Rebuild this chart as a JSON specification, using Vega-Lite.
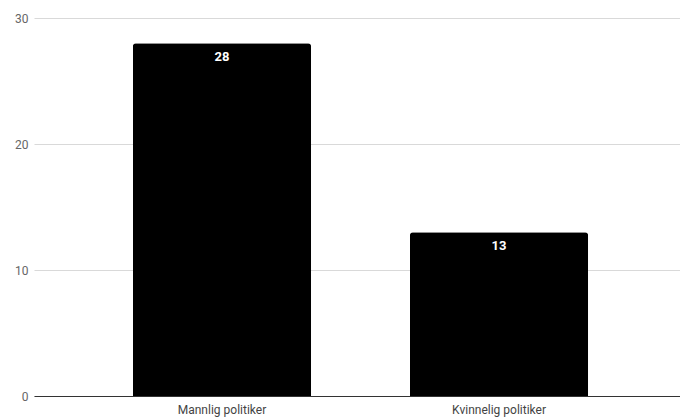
{
  "$schema": "https://vega.github.io/schema/vega-lite/v6.json",
  "width": 653,
  "height": 378,
  "autosize": {"type": "none"},
  "padding": {"left": 34, "top": 18, "right": 0, "bottom": 22},
  "background": "white",
  "config": {
    "view": {"stroke": null},
    "font": "Roboto"
  },
  "data": {
    "values": [
      {"kategori": "Mannlig politiker", "antall": 28},
      {"kategori": "Kvinnelig politiker", "antall": 13}
    ]
  },
  "encoding": {
    "x": {
      "field": "kategori",
      "type": "nominal",
      "sort": null,
      "scale": {"paddingInner": 0.357, "paddingOuter": 0.357},
      "axis": {
        "title": null,
        "labelAngle": 0,
        "ticks": false,
        "domainColor": "#333333",
        "domainWidth": 1,
        "labelColor": "#444444",
        "labelFontSize": 12,
        "labelPadding": 8,
        "labelFont": "Roboto"
      }
    },
    "y": {
      "field": "antall",
      "type": "quantitative",
      "scale": {"domain": [0, 30]},
      "axis": {
        "title": null,
        "values": [0, 10, 20, 30],
        "domain": false,
        "ticks": false,
        "gridColor": "#d9d9d9",
        "labelColor": "#666666",
        "labelFontSize": 12,
        "labelPadding": 6,
        "labelFont": "Roboto"
      }
    }
  },
  "layer": [
    {
      "mark": {"type": "bar", "color": "#000000", "cornerRadiusTopLeft": 3, "cornerRadiusTopRight": 3}
    },
    {
      "mark": {"type": "text", "color": "#ffffff", "fontWeight": "bold", "fontSize": 13, "baseline": "middle", "dy": 14, "font": "Roboto"},
      "encoding": {"text": {"field": "antall", "type": "quantitative"}}
    }
  ]
}
